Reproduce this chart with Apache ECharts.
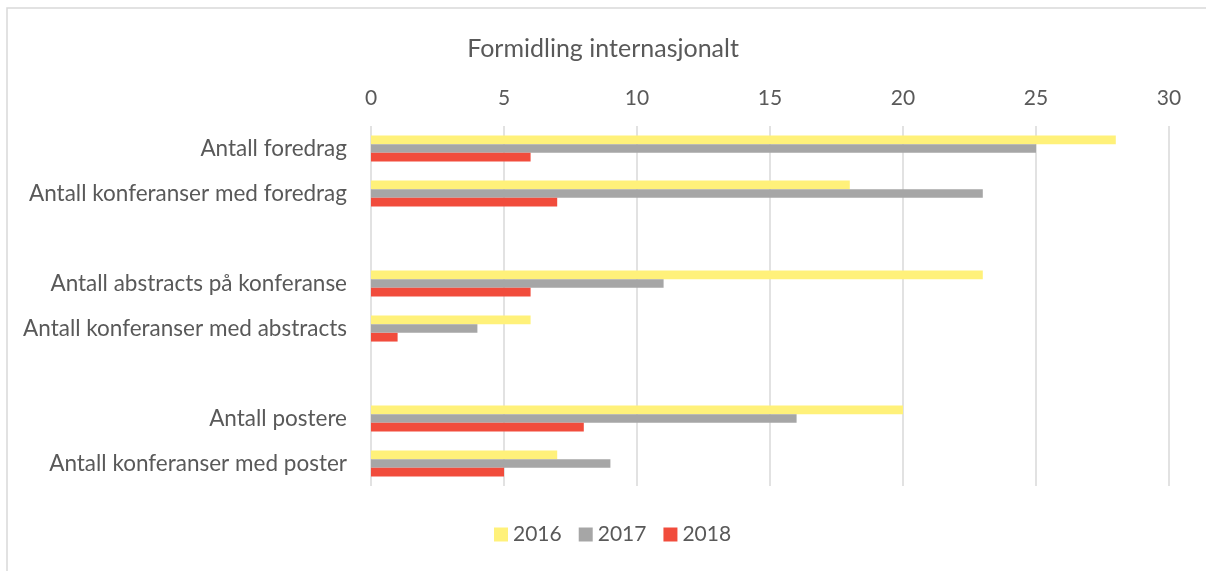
<!DOCTYPE html>
<html>
<head>
<meta charset="utf-8">
<script src="https://cdn.jsdelivr.net/npm/echarts@6/dist/echarts.min.js"></script>
<style>
	html, body { margin: 0; padding: 0; background: #fff; }
	#chart { width: 1206px; height: 571px; }
</style>
</head>
<body>
<div id="chart"></div>
<script>
var categories = ['Antall foredrag', 'Antall konferanser med foredrag', '', 'Antall abstracts på konferanse', 'Antall konferanser med abstracts', ' ', 'Antall postere', 'Antall konferanser med poster'];
var years = ['2016', '2017', '2018'];
var values2016 = [28, 18, '-', 23, 6, '-', 20, 7];
var values2017 = [25, 23, '-', 11, 4, '-', 16, 9];
var values2018 = [6, 7, '-', 6, 1, '-', 8, 5];
var xTicks = [0, 30, 5];

var myColor = ['#FFF17A', '#A6A6A6', '#F14C3C'];
var font = 'Lato';

var chart = echarts.init(document.getElementById('chart'));
chart.setOption({
	color: myColor,
	title: {
		text: 'Formidling internasjonalt',
		left: 'center',
		top: 31,
		textStyle: { fontFamily: font, fontWeight: 'normal', fontSize: 25, color: '#595959' }
	},
	graphic: [{
		type: 'rect',
		shape: { x: 7, y: 8, width: 1210, height: 580 },
		style: { fill: 'none', stroke: '#D9D9D9', lineWidth: 1.5 }
	}],
	legend: {
		data: years,
		bottom: 21,
		left: 489,
		itemWidth: 14,
		itemHeight: 14,
		itemGap: 17,
		icon: 'rect',
		textStyle: { fontFamily: font, fontSize: 21, color: '#595959' }
	},
	grid: {
		left: 371,
		right: 37,
		top: 126,
		height: 360
	},
	xAxis: {
		type: 'value',
		position: 'top',
		min: xTicks[0],
		max: xTicks[1],
		interval: xTicks[2],
		axisLine: { show: false },
		axisTick: { show: false },
		axisLabel: { fontFamily: font, fontSize: 21, color: '#595959', margin: 17 },
		splitLine: { lineStyle: { color: '#D9D9D9', width: 1.5 } }
	},
	yAxis: {
		type: 'category',
		data: categories,
		inverse: true,
		axisLine: { show: false },
		axisTick: { show: false },
		axisLabel: { fontFamily: font, fontSize: 22.5, color: '#595959', margin: 24 }
	},
	series: [{
			name: years[0],
			type: 'bar',
			data: values2016,
			barGap: '0%',
			barCategoryGap: '42%'
		},
		{
			name: years[1],
			type: 'bar',
			data: values2017,
			barGap: '0%',
			barCategoryGap: '42%'
		},
		{
			name: years[2],
			type: 'bar',
			data: values2018,
			barGap: '0%',
			barCategoryGap: '42%'
		}
	]
});
</script>
</body>
</html>
